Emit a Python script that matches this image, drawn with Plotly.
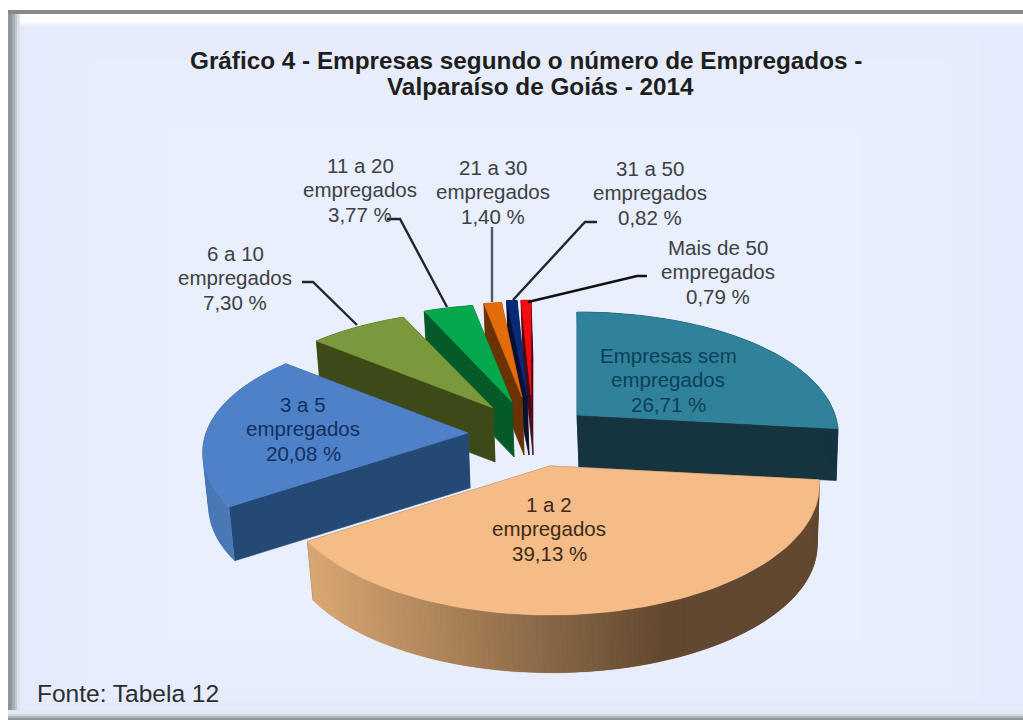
import numpy as np
import plotly.graph_objects as go

# ---- data ----
names = [["Empresas sem", "empregados"], ["1 a 2", "empregados"], ["3 a 5", "empregados"],
         ["6 a 10", "empregados"], ["11 a 20", "empregados"], ["21 a 30", "empregados"],
         ["31 a 50", "empregados"], ["Mais de 50", "empregados"]]
shares = [26.71, 39.13, 20.08, 7.30, 3.77, 1.40, 0.82, 0.79]
title_lines = ["Gráfico 4 - Empresas segundo o número de Empregados -", "Valparaíso de Goiás - 2014"]
source = "Fonte: Tabela 12"

# ---- styling of the exploded 3-D pie (one entry per slice) ----
apex_x = [577, 550, 468, 493, 512, 522, 527, 531]
apex_y = [415, 466, 433, 408, 402, 397, 395, 395]
depths = [52, 60, 55, 54, 55, 58, 60, 60]
scale_x = [0.985, 1.015, 1, 0.97, 0.95, 0.92, 0.92, 0.92]
scale_y = [1, 1, 0.98, 0.95, 0.95, 0.92, 0.92, 0.92]
top_col = ["#2F8299", "#F6BC87", "#4F81C8", "#7A983C", "#06A84E", "#E26C0A", "#0A2A78", "#F40C10"]
dark_col = ["#163440", "#6A4C32", "#254975", "#3D4A18", "#055A2A", "#6B3305", "#0A1030", "#4A0A14"]
label_x = [668, 549, 303, 235, 360, 493, 650, 718]
label_y = [355, 504, 404, 253, 165, 167, 168, 247]
label_col = ["#0E3F58", "#3B2A18", "#12305F", "#3C4048", "#3C4048", "#3C4048", "#3C4048", "#3C4048"]
leaders = [None, None, None,
           ([302, 313, 357], [282, 282, 325]),
           ([387, 400, 447], [219, 219, 307]),
           ([492, 492], [227, 302]),
           ([597, 585, 513], [222, 222, 300]),
           ([647, 637, 528], [276, 276, 302])]
leader_col = [None, None, None, "#22262C", "#22262C", "#555A62", "#22262C", "#111111"]
draw_order = [7, 6, 5, 4, 3, 2, 0, 1]
BG = "#E5EBFC"
BG_STEPS = [(50, 40, 980, 700, "#E6ECFC"), (90, 60, 950, 690, "#E7EDFC"),
            (130, 90, 910, 670, "#E8EEFC"), (170, 130, 860, 640, "#E9EFFC")]


def project(i, th, depth=0.0):
    s, c = np.sin(th), np.cos(th)
    k = 1 - 0.015 * (depth > 0)
    x = apex_x[i] + k * (262 - 42 * c) * s * scale_x[i] + (2 if depth > 0 else 0)
    y = apex_y[i] - k * (126 - 23 * c) * c * scale_y[i] + depth
    return x, y


def mix(a, b, t):
    ca = [int(a[j:j + 2], 16) for j in (1, 3, 5)]
    cb = [int(b[j:j + 2], 16) for j in (1, 3, 5)]
    return "rgb(%d,%d,%d)" % tuple(round(p + (q - p) * t) for p, q in zip(ca, cb))


fig = go.Figure()


def poly(xs, ys, color, lw=0.6):
    fig.add_trace(go.Scatter(x=list(xs), y=list(ys), mode="lines", fill="toself", fillcolor=color,
                             line=dict(color=color, width=lw), hoverinfo="skip", showlegend=False))


edges = np.concatenate([[0], np.cumsum(shares)]) / sum(shares) * 2 * np.pi
for i in draw_order:
    a, b = edges[i], edges[i + 1]
    d = depths[i]
    ax, ay = apex_x[i], apex_y[i]
    for th in (a, b):
        x0, y0 = project(i, th)
        x1, y1 = project(i, th, d)
        poly([ax, x0, x1, ax + 2, ax], [ay, y0, y1, ay + d, ay], dark_col[i])
    # curved rim, in strips that overlap the next one so no seams show
    th = np.linspace(a, b, max(8, int((b - a) * 50)) + 1)
    for n, (t0, t1) in enumerate(zip(th[:-1], th[1:])):
        t2 = th[min(n + 2, len(th) - 1)]
        x0, y0 = project(i, t0)
        x1, y1 = project(i, t2)
        x2, y2 = project(i, t2, d)
        x3, y3 = project(i, t0, d)
        if i == 1:
            u = np.clip(((x0 + x1) / 2 - 310) / 350, 0, 1)
            col = mix("#D8A672", "#624830", u)
        elif i == 2:
            col = "#4B78B6"
        else:
            col = dark_col[i]
        poly([x0, x1, x2, x3, x0], [y0, y1, y2, y3, y0], col, lw=0.2)
    th = np.linspace(a, b, 80)
    tx, ty = project(i, th)
    poly(np.r_[ax, tx, ax], np.r_[ay, ty, ay], top_col[i])

for lead, lc in zip(leaders, leader_col):
    if lead:
        fig.add_trace(go.Scatter(x=lead[0], y=lead[1], mode="lines", hoverinfo="skip", showlegend=False,
                                 line=dict(color=lc, width=2.4)))

FONT = "Liberation Sans, Arial, sans-serif"
for lines, sh, lx, ly, col in zip(names, shares, label_x, label_y, label_col):
    txt = lines + [f"{sh:.2f}".replace(".", ",") + " %"]
    for k, line in enumerate(txt):
        fig.add_annotation(x=lx, y=ly + 24.5 * k, text=line, showarrow=False, xanchor="center",
                           yanchor="middle", font=dict(family=FONT, size=20.5, color=col))
for line, tx, ty in zip(title_lines, [526, 540], [60, 86]):
    fig.add_annotation(x=tx, y=ty, text="<b>" + line + "</b>", showarrow=False, xanchor="center",
                       yanchor="middle", font=dict(family=FONT, size=24.3, color="#1E1E1E"))
fig.add_annotation(x=35, y=693, text=source, showarrow=False, xanchor="left", yanchor="middle",
                   font=dict(family=FONT, size=24.5, color="#2A2D33"))

shapes = [dict(type="rect", x0=8, x1=1023, y0=10, y1=720, fillcolor=BG, line=dict(width=0), layer="below")]
for x0, y0, x1, y1, col in BG_STEPS:
    shapes.append(dict(type="rect", x0=x0, x1=x1, y0=y0, y1=y1, fillcolor=col, line=dict(width=0), layer="below"))
# bevel of the frame: top highlight, left shading, bottom shading
for y0, y1, col in [(14, 22, "#FDFDFE"), (22, 24, "#F6F8FE"), (24, 26, "#EEF2FD")]:
    shapes.append(dict(type="rect", x0=8, x1=1023, y0=y0, y1=y1, fillcolor=col, line=dict(width=0), layer="below"))
for x0, x1, col in [(8, 12, "#8F949B"), (12, 15, "#A8ADB5"), (15, 17, "#C2C8D2"), (17, 20, "#DAE0EC")]:
    shapes.append(dict(type="rect", x0=x0, x1=x1, y0=14, y1=720, fillcolor=col, line=dict(width=0), layer="below"))
for y0, y1, col in [(710, 714, "#E2E9F6"), (714, 716, "#D0D5DE"), (716, 718, "#AEB3BA"), (718, 720, "#8F949B")]:
    shapes.append(dict(type="rect", x0=8, x1=1023, y0=y0, y1=y1, fillcolor=col, line=dict(width=0), layer="below"))
shapes.append(dict(type="rect", x0=8, x1=1023, y0=10, y1=14, fillcolor="#85898D", line=dict(width=0), layer="below"))

fig.update_layout(
    width=1023, height=720, margin=dict(l=0, r=0, t=0, b=0), paper_bgcolor="white", plot_bgcolor="white",
    shapes=shapes, showlegend=False,
    xaxis=dict(range=[0, 1023], visible=False, fixedrange=True),
    yaxis=dict(range=[720, 0], visible=False, fixedrange=True),
)
fig.write_html("out.html", config={"displayModeBar": False},
               post_script="document.body.style.margin='0';document.documentElement.style.overflow='hidden';")
